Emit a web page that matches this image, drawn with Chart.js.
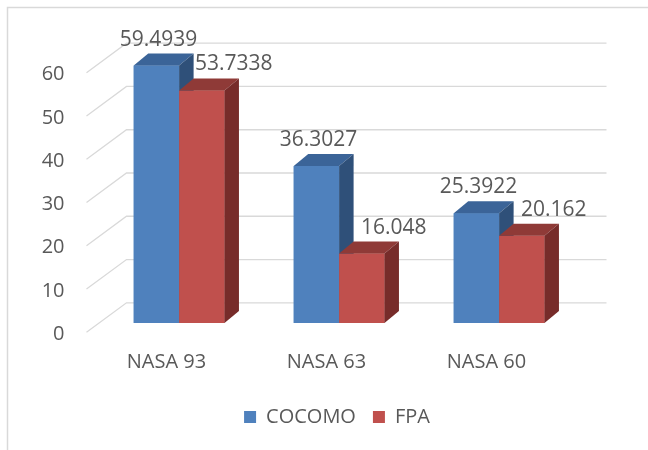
<!DOCTYPE html>
<html><head><meta charset="utf-8">
<script src="https://cdn.jsdelivr.net/npm/chart.js@4.4.1/dist/chart.umd.min.js"></script>
<style>html,body{margin:0;padding:0;background:#fff;}</style>
</head><body>
<canvas id="c" width="648" height="450" style="display:block;width:648px;height:450px"></canvas>
<script>
const categories = ['NASA 93', 'NASA 63', 'NASA 60'];
const seriesNames = ['COCOMO', 'FPA'];
const cocomo = [59.4939, 36.3027, 25.3922];
const fpa = [53.7338, 16.048, 20.162];
const yTicks = [0, 10, 20, 30, 40, 50, 60];

const WALL = {dx: 40, dy: -29.5};
const BAR = {ox: 12.6, oy: -9.3, dx: 14.5, dy: -12};
const faces = [
  {front: '#4F81BD', top: '#3B6498', side: '#2F5079', labelDX: 2},
  {front: '#C0504D', top: '#8F3A37', side: '#772C2A', labelDX: 32}
];
const TEXT = '#595959';
const GRID = '#d9d9d9';

Chart.defaults.font.family = '"Open Sans", sans-serif';

const threeD = {
  id: 'threeD',
  beforeDraw(chart) {
    const ctx = chart.ctx;
    ctx.save();
    ctx.strokeStyle = GRID; ctx.lineWidth = 1.5;
    ctx.beginPath(); ctx.moveTo(7.5, chart.height); ctx.lineTo(7.5, 7.5); ctx.lineTo(chart.width, 7.5); ctx.stroke();
    ctx.restore();
  },
  beforeDatasetsDraw(chart) {
    const {ctx, chartArea: a, scales: {y}} = chart;
    ctx.save();
    ctx.strokeStyle = GRID; ctx.lineWidth = 1.3;
    y.ticks.forEach(t => {
      const py = y.getPixelForValue(t.value);
      ctx.beginPath();
      ctx.moveTo(a.left, py);
      ctx.lineTo(a.left + WALL.dx, py + WALL.dy);
      ctx.lineTo(a.right + WALL.dx, py + WALL.dy);
      ctx.stroke();
    });
    ctx.restore();
    ctx.save();
    ctx.translate(BAR.ox, BAR.oy);
  },
  afterDatasetsDraw(chart) {
    const ctx = chart.ctx;
    const n = chart.data.labels.length;
    for (let i = 0; i < n; i++) {
      chart.data.datasets.forEach((ds, d) => {
        const el = chart.getDatasetMeta(d).data[i];
        const {x, y, base, width} = el.getProps(['x', 'y', 'base', 'width'], true);
        const l = x - width / 2, r = x + width / 2;
        el.draw(ctx);
        ctx.fillStyle = faces[d].top;
        ctx.beginPath();
        ctx.moveTo(l, y); ctx.lineTo(l + BAR.dx, y + BAR.dy); ctx.lineTo(r + BAR.dx, y + BAR.dy); ctx.lineTo(r, y);
        ctx.closePath(); ctx.fill();
        ctx.fillStyle = faces[d].side;
        ctx.beginPath();
        ctx.moveTo(r, y); ctx.lineTo(r + BAR.dx, y + BAR.dy); ctx.lineTo(r + BAR.dx, base + BAR.dy); ctx.lineTo(r, base);
        ctx.closePath(); ctx.fill();
      });
    }
    ctx.font = '21px "Open Sans"';
    ctx.fillStyle = TEXT;
    ctx.textAlign = 'center';
    ctx.textBaseline = 'middle';
    chart.data.datasets.forEach((ds, d) => {
      chart.getDatasetMeta(d).data.forEach((el, i) => {
        const {x, y} = el.getProps(['x', 'y'], true);
        ctx.fillText(String(ds.data[i]), x + faces[d].labelDX, y + BAR.dy - 14);
      });
    });
    ctx.restore();
  }
};

new Chart(document.getElementById('c'), {
  type: 'bar',
  data: {
    labels: categories,
    datasets: [
      {label: seriesNames[0], data: cocomo, backgroundColor: faces[0].front, borderWidth: 0, clip: false},
      {label: seriesNames[1], data: fpa, backgroundColor: faces[1].front, borderWidth: 0, clip: false}
    ]
  },
  options: {
    responsive: false,
    animation: false,
    events: [],
    categoryPercentage: 0.567,
    barPercentage: 1,
    layout: {padding: {top: 72.7, left: 30, right: 4, bottom: 13}},
    scales: {
      x: {
        grid: {display: false, drawTicks: false},
        border: {display: false},
        ticks: {color: TEXT, font: {size: 20}, padding: 18, maxRotation: 0},
        afterFit(s) { s.height = 57.7; }
      },
      y: {
        position: 'left',
        min: 0, max: 60,
        afterBuildTicks(s) { s.ticks = yTicks.map(v => ({value: v})); },
        ticks: {color: TEXT, font: {size: 20}, padding: 22, labelOffset: 2},
        grid: {display: false, drawTicks: false},
        border: {display: false},
        afterFit(s) { s.width = 56.5; }
      },
      y2: {
        position: 'right',
        display: true,
        grid: {display: false, drawTicks: false},
        border: {display: false},
        ticks: {display: false},
        afterFit(s) { s.width = 77.5; }
      }
    },
    plugins: {
      legend: {
        position: 'bottom',
        labels: {boxWidth: 12, boxHeight: 12, padding: 17, color: TEXT, font: {size: 20}}
      },
      tooltip: {enabled: false}
    }
  },
  plugins: [threeD]
});
</script>
</body></html>
